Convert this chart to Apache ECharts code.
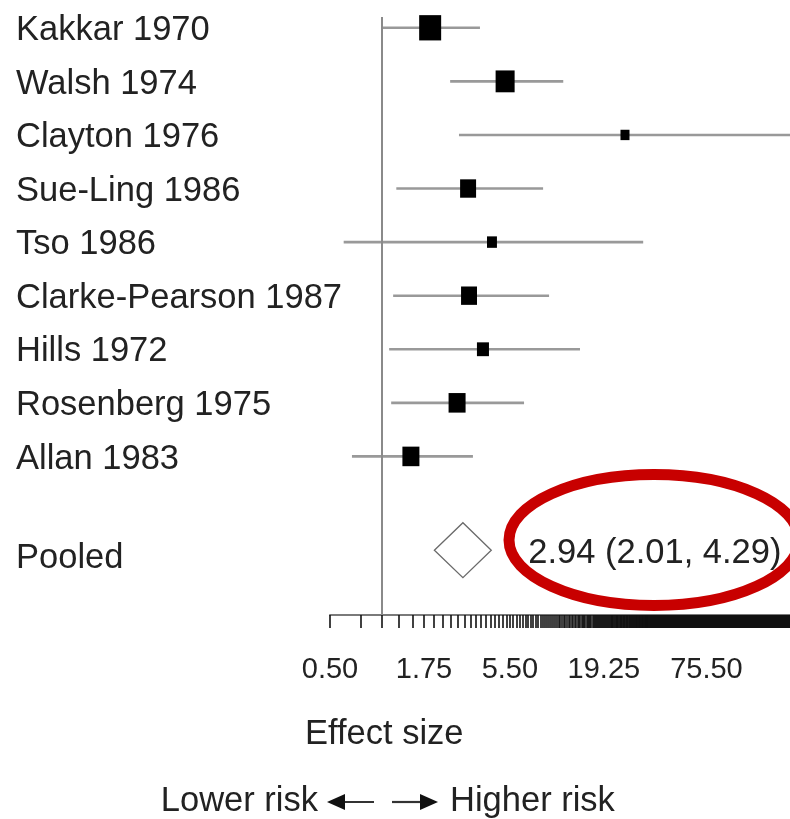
<!DOCTYPE html>
<html>
<head>
<meta charset="utf-8">
<script src="https://cdn.jsdelivr.net/npm/echarts@6/dist/echarts.min.js"></script>
<style>
html,body{margin:0;padding:0;background:#fff;}
#chart{width:790px;height:819px;}
</style>
</head>
<body>
<div id="chart"></div>
<script>
// ---- data ----
const studies = ['Kakkar 1970','Walsh 1974','Clayton 1976','Sue-Ling 1986','Tso 1986','Clarke-Pearson 1987','Hills 1972','Rosenberg 1975','Allan 1983'];
const effect  = [1.90, 5.16, 25.5, 3.15, 4.33, 3.19, 3.84, 2.72, 1.47];
const ciLow   = [1.01, 2.48, 2.79, 1.21, 0.60, 1.16, 1.10, 1.13, 0.67];
const ciHigh  = [3.69, 11.2, 260,  8.56, 32.5, 9.27, 14.0, 6.64, 3.36];
const weight  = [21.4, 16.0, 3.6, 11.3, 4.4, 11.3, 6.4, 12.8, 12.8]; // % weight
const pooledName = 'Pooled';
const pooledEffect = 2.94;
const pooledLow = 2.01;
const pooledHigh = 4.29;
const tickLabelValues = [0.50, 1.75, 5.50, 19.25, 75.50];
const nullValue = 1;

// ---- layout constants ----
const FONT = "'Liberation Sans', Arial, Helvetica, sans-serif";
const pooledRow = 9.75;
const pooledLabelRow = 9.9;
const labelNudge = 0.05;
const xMin = 0.5, xMax = 230;
const gridLeft = 330;
const minorTicks = [];
for (let v = 0.5; v <= xMax + 1e-9; v += 0.25) minorTicks.push(+v.toFixed(2));

const studyRows = studies.map((s, i) => [ciLow[i], ciHigh[i], effect[i], i]);
const pointData = studies.map((s, i) => {
  const sz = Math.sqrt(weight[i] * 22.6);
  return { value: [effect[i], i], symbolSize: [sz, sz * 1.15] };
});

const chart = echarts.init(document.getElementById('chart'), null, { renderer: 'canvas' });
chart.setOption({
  animation: false,
  backgroundColor: '#fff',
  grid: { left: gridLeft, right: 0, top: 1, bottom: 204, containLabel: false, outerBoundsMode: 'none' },
  xAxis: {
    type: 'log', logBase: Math.E, min: xMin, max: xMax,
    axisLine: { show: true, onZero: false, lineStyle: { color: '#7a7a7a', width: 2 } },
    axisTick: { show: true, customValues: minorTicks, length: 13, lineStyle: { color: '#111', width: 1.6 } },
    minorTick: { show: false },
    splitLine: { show: false },
    axisLabel: { customValues: tickLabelValues, formatter: v => Number(v).toFixed(2), fontSize: 29, fontFamily: FONT, color: '#222', margin: 40 }
  },
  yAxis: {
    type: 'value', inverse: true, min: -0.5, max: 10.96,
    axisLine: { show: false }, axisTick: { show: false }, splitLine: { show: false },
    axisLabel: {
      customValues: studies.map((s, i) => i + labelNudge).concat([pooledLabelRow]),
      formatter: v => (v > studies.length - 0.5 ? pooledName : studies[Math.round(v)]),
      align: 'left', margin: gridLeft - 16, fontSize: 34.5, fontFamily: FONT, color: '#222'
    }
  },
  series: [
    {
      type: 'custom', name: 'CI', clip: false, z: 2,
      data: studyRows,
      renderItem: (params, api) => {
        const a = api.coord([api.value(0), api.value(3)]);
        const b = api.coord([api.value(1), api.value(3)]);
        return { type: 'line', shape: { x1: a[0], y1: a[1], x2: b[0], y2: b[1] }, style: { stroke: '#999', lineWidth: 2.6 } };
      },
      markLine: {
        silent: true, symbol: 'none', label: { show: false },
        lineStyle: { color: '#8a8a8a', width: 2, type: 'solid' },
        data: [[{ coord: [nullValue, -0.2] }, { coord: [nullValue, 10.96] }]]
      }
    },
    {
      type: 'scatter', name: 'Effect', symbol: 'rect', z: 3,
      itemStyle: { color: '#000', opacity: 1 },
      data: pointData
    },
    {
      type: 'custom', name: 'Pooled', clip: false, z: 3,
      data: [[pooledEffect, pooledLow, pooledHigh, pooledRow]],
      renderItem: (params, api) => {
        const c = api.coord([api.value(0), api.value(3)]);
        const l = api.coord([api.value(1), api.value(3)]);
        const r = api.coord([api.value(2), api.value(3)]);
        const h = 27.5;
        const txt = api.value(0).toFixed(2) + ' (' + api.value(1).toFixed(2) + ', ' + api.value(2).toFixed(2) + ')';
        return {
          type: 'group',
          children: [
            { type: 'polygon', shape: { points: [[l[0], l[1]], [c[0], c[1] - h], [r[0], r[1]], [c[0], c[1] + h]] }, style: { fill: '#fff', stroke: '#6a6a6a', lineWidth: 1.3 } },
            { type: 'text', x: r[0] + 37, y: r[1] + 3, style: { text: txt, fontSize: 34.5, fontFamily: FONT, fill: '#222', textAlign: 'left', textVerticalAlign: 'middle' } }
          ]
        };
      }
    }
  ],
  graphic: [
    { type: 'ellipse', z: 100, shape: { cx: 654, cy: 540, rx: 145, ry: 65.5 }, style: { fill: 'none', stroke: '#c80000', lineWidth: 11 } },
    { type: 'text', x: 305, y: 734, style: { text: 'Effect size', fontSize: 34.5, fontFamily: FONT, fill: '#222', textAlign: 'left', textVerticalAlign: 'middle' } },
    { type: 'text', x: 318, y: 801, style: { text: 'Lower risk', fontSize: 34.5, fontFamily: FONT, fill: '#222', textAlign: 'right', textVerticalAlign: 'middle' } },
    { type: 'line', shape: { x1: 341, y1: 802, x2: 374, y2: 802 }, style: { stroke: '#333', lineWidth: 2.2 } },
    { type: 'polygon', shape: { points: [[327, 802], [345, 794], [345, 810]] }, style: { fill: '#111' } },
    { type: 'line', shape: { x1: 392, y1: 802, x2: 424, y2: 802 }, style: { stroke: '#333', lineWidth: 2.2 } },
    { type: 'polygon', shape: { points: [[438, 802], [420, 794], [420, 810]] }, style: { fill: '#111' } },
    { type: 'text', x: 450, y: 801, style: { text: 'Higher risk', fontSize: 34.5, fontFamily: FONT, fill: '#222', textAlign: 'left', textVerticalAlign: 'middle' } }
  ]
});
</script>
</body>
</html>
